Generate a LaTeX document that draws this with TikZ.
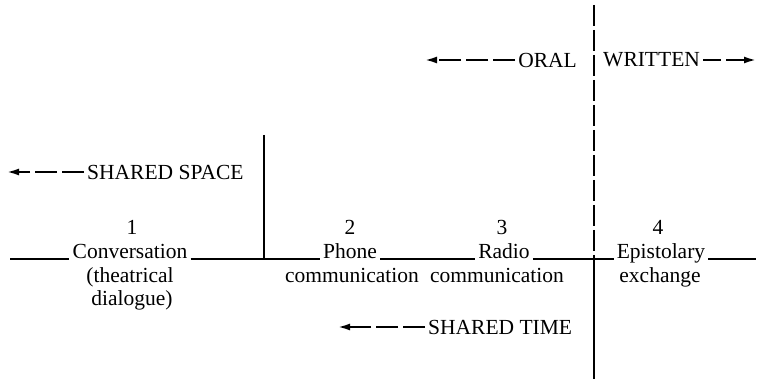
\documentclass[tikz,border=0pt]{standalone}
\usepackage{fontspec}
\setmainfont{Liberation Serif}
\usetikzlibrary{arrows.meta}

\begin{document}
\begin{tikzpicture}[
x=1pt, y=-1pt,
lbl/.style={
	font=\fontsize{21.5}{24}\selectfont,
	inner sep=3pt, anchor=base, text=black
},
rule/.style={line width=2pt},
dasharrow/.style={
	line width=2pt, dash pattern=on 22pt off 5pt,
	-{Latex[length=12pt,width=7pt]}
}
]
\useasboundingbox (0,0) rectangle (764,379);
% numbers above the four kinds of exchange
\foreach \i/\x in {1/132,2/350,3/502,4/658}
	\node[lbl] (num\i) at (\x,235) {\i};
\node[lbl] (st1) at (130,259) {Conversation};
\node[lbl] (st2) at (350,259) {Phone};
\node[lbl] (st3) at (504,259) {Radio};
\node[lbl] (st4) at (661,259) {Epistolary};
\node[lbl] (sub1) at (130,283) {(theatrical};
\node[lbl] (sub1b) at (132,306) {dialogue)};
\node[lbl] (sub2) at (352,283) {communication};
\node[lbl] (sub3) at (497,283) {communication};
\node[lbl] (sub4) at (660,283) {exchange};
% the scale line through the baselines
\coordinate (left end) at (10,259);
\coordinate (right end) at (756,259);
\draw[rule] (left end) -- (st1.base west);
\foreach \i in {1,...,3}
{
	\pgfmathsetmacro\next{int(\i + 1)}
	\draw[rule] (st\i.base east) -- (st\next.base west);
}
\draw[rule] (st4.base east) -- (right end);
% dividers
\coordinate (space top) at (264,135);
\coordinate (space foot) at (264,259);
\draw[rule] (space top) -- (space foot);
\coordinate (oral top) at (594,5);
\coordinate (oral foot) at (594,259);
\coordinate (time foot) at (594,379);
\draw[rule, dash pattern=on 21pt off 4pt] (oral top) -- (oral foot);
\draw[rule] (oral foot) -- (time foot);
% range labels
\node[lbl, anchor=west] (space) at (84,172) {SHARED SPACE};
\node[lbl, anchor=east] (oral) at (580,60) {ORAL};
\node[lbl, anchor=west] (written) at (600,60) {WRITTEN};
\node[lbl, anchor=west] (time) at (425,327) {SHARED TIME};
\coordinate (space tip) at (7,172);
\coordinate (oral tip) at (425,60);
\coordinate (written tip) at (756,60);
\coordinate (time tip) at (338,327);
\draw[dasharrow] (space.west) -- (space tip);
\draw[dasharrow] (oral.west) -- (oral tip);
\draw[dasharrow, dash pattern=on 18pt off 5pt] (written.east) -- (written tip);
\draw[dasharrow] (time.west) -- (time tip);
\end{tikzpicture}
\end{document}
